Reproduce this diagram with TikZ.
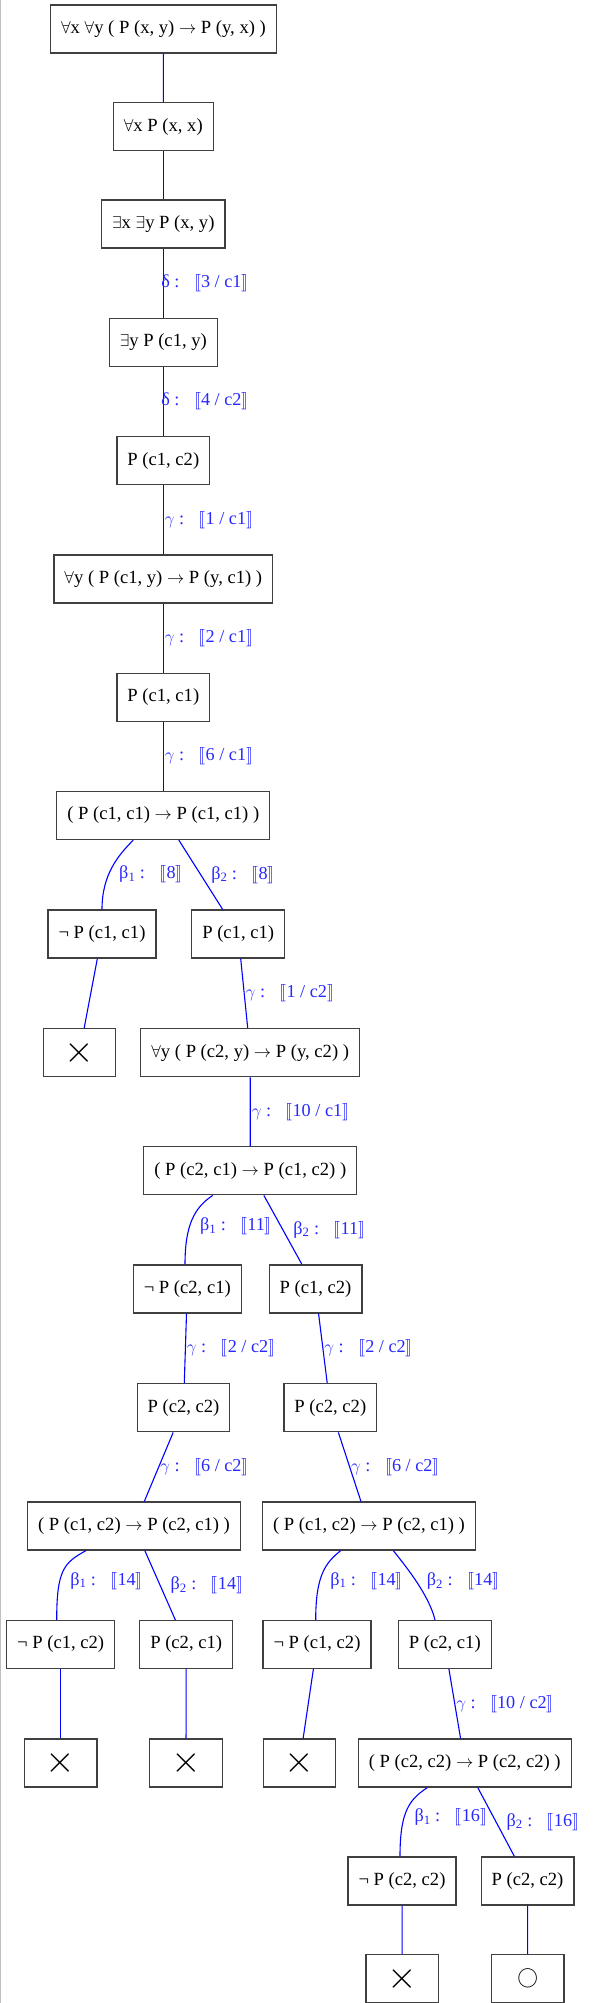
\documentclass[tikz,border=0pt]{standalone}
\usepackage{fontspec}
\setmainfont{Liberation Serif}
\usepackage{stmaryrd}
\usepackage{graphicx}
\usepackage{tikz}
\usetikzlibrary{positioning}
\definecolor{linkblue}{RGB}{0,0,255}
\definecolor{lblblue}{RGB}{40,40,255}
\definecolor{framegray}{RGB}{64,64,64}
\tikzset{
  formula/.style={draw=framegray, line width=1.2pt, inner xsep=10.5pt, minimum height=48pt, font=\fontsize{18.6}{22}\selectfont},
  closed/.style={formula, minimum width=72.4pt},
  link/.style={draw=linkblue, line width=1.1pt},
  lbl/.style={midway, anchor=west, inner sep=1pt, text=lblblue, font=\fontsize{18.2}{22}\selectfont},
  blbl/.style={lbl, xshift=9pt},
}
\newcommand{\rl}[2]{#1 :\hspace{0.8em}$\llbracket$#2$\rrbracket$}
\newcommand{\imp}{$\rightarrow$}
\newcommand{\closedmark}{\scalebox{2.2}{$\times$}}
\newcommand{\openmark}{{\fontsize{20}{20}\selectfont$\bigcirc$}}

\begin{document}
\begin{tikzpicture}[x=1pt, y=-1pt]
  \useasboundingbox (0,0) rectangle (596,2003);
  \draw[gray!50, line width=1pt] (0.5,0) -- (0.5,2003);

  \node[formula] (t1) at (163.5,29) {$\forall$x $\forall$y ( P (x, y) \imp{} P (y, x) )};
  \node[formula] (t2) at (163.3,126.7) {$\forall$x P (x, x)};
  \node[formula] (t3) at (163.3,224) {$\exists$x $\exists$y P (x, y)};
  \node[formula] (t4) at (163.3,342.3) {$\exists$y P (c1, y)};
  \node[formula] (t5) at (163.3,460.7) {P (c1, c2)};
  \node[formula] (t6) at (163.3,579) {$\forall$y ( P (c1, y) \imp{} P (y, c1) )};
  \node[formula] (t7) at (163.3,697.3) {P (c1, c1)};
  \node[formula] (t8) at (163.3,815.5) {( P (c1, c1) \imp{} P (c1, c1) )};
  \node[formula] (t9) at (102,934) {¬ P (c1, c1)};
  \node[formula] (t10) at (238.2,934) {P (c1, c1)};
  \node[closed] (x1) at (79.5,1052.7) {\closedmark};
  \node[formula] (t11) at (250.2,1052.7) {$\forall$y ( P (c2, y) \imp{} P (y, c2) )};
  \node[formula] (t12) at (250.3,1170.8) {( P (c2, c1) \imp{} P (c1, c2) )};
  \node[formula] (t13) at (187.3,1289) {¬ P (c2, c1)};
  \node[formula] (t14) at (315.5,1289) {P (c1, c2)};
  \node[formula] (t15) at (183.5,1407.8) {P (c2, c2)};
  \node[formula] (t16) at (330.3,1407.8) {P (c2, c2)};
  \node[formula] (t17) at (134,1526) {( P (c1, c2) \imp{} P (c2, c1) )};
  \node[formula] (t18) at (369,1526) {( P (c1, c2) \imp{} P (c2, c1) )};
  \node[formula] (t19) at (60.7,1644.5) {¬ P (c1, c2)};
  \node[formula] (t20) at (186.2,1644.5) {P (c2, c1)};
  \node[formula] (t21) at (317,1644.5) {¬ P (c1, c2)};
  \node[formula] (t22) at (444.8,1644.5) {P (c2, c1)};
  \node[closed] (x2) at (60.7,1763) {\closedmark};
  \node[closed] (x3) at (186,1763) {\closedmark};
  \node[closed] (x4) at (299.5,1763) {\closedmark};
  \node[formula] (t23) at (464.7,1763) {( P (c2, c2) \imp{} P (c2, c2) )};
  \node[formula] (t24) at (402,1881) {¬ P (c2, c2)};
  \node[formula] (t25) at (527.5,1881) {P (c2, c2)};
  \node[closed] (x5) at (402.2,1978.5) {\closedmark};
  \node[closed] (o1) at (527.7,1978.5) {\openmark};

  \draw[link] (t1) -- (t2);
  \draw[link] (t2) -- (t3);
  \draw[link] (t3) -- node[lbl, xshift=-3.5pt] {\rl{δ}{3 / c1}} (t4);
  \draw[link] (t4) -- node[lbl, xshift=-3.5pt] {\rl{δ}{4 / c2}} (t5);
  \draw[link] (t5) -- node[lbl] {\rl{$\gamma$}{1 / c1}} (t6);
  \draw[link] (t6) -- node[lbl] {\rl{$\gamma$}{2 / c1}} (t7);
  \draw[link] (t7) -- node[lbl] {\rl{$\gamma$}{6 / c1}} (t8);
  \draw[link] ([xshift=-30pt]t8.south) .. controls +(-15,15) and +(0,-35) .. (t9.north)
    node[blbl, pos=0.6] {\rl{β\textsubscript{1}}{8}};
  \draw[link] (t8) -- node[blbl] {\rl{β\textsubscript{2}}{8}} (t10);
  \draw[link] (t9) -- (x1);
  \draw[link] (t10) -- node[lbl] {\rl{$\gamma$}{1 / c2}} (t11);
  \draw[link] (t11) -- node[lbl] {\rl{$\gamma$}{10 / c1}} (t12);
  \draw[link] ([xshift=-37.6pt]t12.south) .. controls +(-18,12) and +(0,-40) .. ([xshift=-2.3pt]t13.north)
    node[blbl, pos=0.6] {\rl{β\textsubscript{1}}{11}};
  \draw[link] (t12) -- node[blbl] {\rl{β\textsubscript{2}}{11}} (t14);
  \draw[link] (t13) -- node[lbl] {\rl{$\gamma$}{2 / c2}} (t15);
  \draw[link] (t14) -- node[lbl] {\rl{$\gamma$}{2 / c2}} (t16);
  \draw[link] (t15) -- node[lbl] {\rl{$\gamma$}{6 / c2}} (t17);
  \draw[link] (t16) -- node[lbl] {\rl{$\gamma$}{6 / c2}} (t18);
  \draw[link] ([xshift=-48pt]t17.south) .. controls +(-22,12) and +(0,-50) .. ([xshift=-4pt]t19.north)
    node[blbl, pos=0.65] {\rl{β\textsubscript{1}}{14}};
  \draw[link] (t17) -- node[blbl] {\rl{β\textsubscript{2}}{14}} (t20);
  \draw[link] ([xshift=-28.3pt]t18.south) .. controls +(-15,12) and +(0,-45) .. ([xshift=-1.3pt]t21.north)
    node[blbl, pos=0.62] {\rl{β\textsubscript{1}}{14}};
  \draw[link] ([xshift=24.3pt]t18.south) .. controls +(12,15) and +(-6,-25) .. ([xshift=-9.8pt]t22.north)
    node[blbl, pos=0.5] {\rl{β\textsubscript{2}}{14}};
  \draw[link] (t19) -- (x2);
  \draw[link] (t20) -- (x3);
  \draw[link] (t21) -- (x4);
  \draw[link] (t22) -- node[lbl] {\rl{$\gamma$}{10 / c2}} (t23);
  \draw[link] ([xshift=-37.4pt]t23.south) .. controls +(-18,12) and +(0,-45) .. ([xshift=-2pt]t24.north)
    node[blbl, pos=0.62] {\rl{β\textsubscript{1}}{16}};
  \draw[link] (t23) -- node[blbl] {\rl{β\textsubscript{2}}{16}} (t25);
  \draw[link] (t24) -- (x5);
  \draw[link] (t25) -- (o1);
\end{tikzpicture}
\end{document}
